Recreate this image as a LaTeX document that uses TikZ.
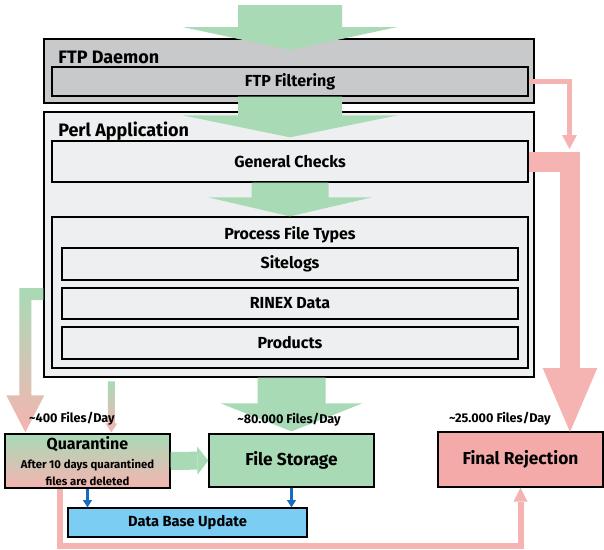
\documentclass[tikz,border=0pt]{standalone}
\usepackage{fontspec}
\setmainfont{Fira Sans}
\usetikzlibrary{arrows.meta,calc}
% block arrow pointing down: (start)(tip)(half shaft:half head:head length)
\def\blockarrow[#1](#2)(#3)(#4:#5:#6){\fill[#1] ($(#2)+(-#4,0)$) -- ($(#3)+(-#4,-#6)$) -- ($(#3)+(-#5,-#6)$) -- (#3) -- ($(#3)+(#5,-#6)$) -- ($(#3)+(#4,-#6)$) -- ($(#2)+(#4,0)$) -- cycle;}

\definecolor{flowgreen}{RGB}{168,218,182}
\definecolor{rejectpink}{RGB}{245,180,177}
\definecolor{rejectfill}{RGB}{243,170,168}
\definecolor{fadecream}{RGB}{236,216,184}
\definecolor{daemongray}{RGB}{200,201,202}
\definecolor{perlgray}{RGB}{238,239,240}
\definecolor{dbblue}{RGB}{124,205,243}
\definecolor{dbarrow}{RGB}{22,108,190}

\tikzset{
  box/.style={draw=black, line width=1pt, inner sep=0pt, font=\bfseries\fontsize{12}{14}\selectfont},
  target/.style={box, minimum width=123.75pt, font=\bfseries\fontsize{13}{16}\selectfont},
  grouptitle/.style={anchor=west, inner sep=0pt, font=\bfseries\fontsize{13.5}{16}\selectfont},
  rate/.style={inner sep=0pt, font=\bfseries\fontsize{9.5}{11}\selectfont},
  greenflow/.style={draw=flowgreen},
  rejectflow/.style={draw=rejectpink},
  fadeflow/.style={top color=flowgreen, middle color=fadecream, bottom color=rejectpink, draw=none},
  dbflow/.style={draw=dbarrow, line width=1.9pt, -{Triangle[width=7pt,length=5.5pt,line width=0pt]}}
}

\begin{document}
\begin{tikzpicture}[x=0.75pt,y=-0.75pt]
			%%%%% START %%%%%
			\useasboundingbox (0,0) rectangle (604,550);
			
			% ftp daemon
			\node[box, fill=daemongray, minimum width=367.5pt, minimum height=48pt] (ftpd) at (289,71) {};
			\node[grouptitle] (ftpdtitle) at (58,57) {FTP Daemon};
			\node[box, fill=daemongray, minimum width=357pt, minimum height=21.75pt] (filt) at (290,81.5) {FTP Filtering};
			
			% perl application
			\node[box, fill=perlgray, minimum width=367.5pt, minimum height=198.75pt] (perl) at (289,244.5) {};
			\node[grouptitle] (perltitle) at (58,131) {Perl Application};
			\node[box, fill=perlgray, minimum width=357pt, minimum height=30.75pt] (checks) at (290,161.5) {General Checks};
			\node[box, fill=perlgray, minimum width=357pt, minimum height=113.25pt] (types) at (290,292.5) {};
			\node[box, draw=none] (typestitle) at (290,235) {Process File Types};
			\node[box, fill=perlgray, minimum width=342pt, minimum height=24pt] (sitelogs) at (290,264) {Sitelogs};
			\node[box, fill=perlgray, minimum width=342pt, minimum height=23.25pt] (rinex) at (290,303.5) {RINEX Data};
			\node[box, fill=perlgray, minimum width=342pt, minimum height=24pt] (products) at (290,343) {Products};
			
			% where the files end up
			\node[box, fadeflow, draw=black, minimum width=123.75pt, minimum height=40.5pt, align=center] (quar) at (87.5,461)
				{\fontsize{12}{13}\selectfont Quarantine\\[0pt]
				 \fontsize{8.5}{10}\selectfont After 10 days quarantined\\[-1pt]
				 \fontsize{8.5}{10}\selectfont files are deleted};
			\node[target, fill=flowgreen, minimum height=39.75pt] (store) at (291.5,460.5) {File Storage};
			\node[target, fill=rejectfill, minimum height=41.25pt] (reject) at (520.5,459.5) {Final Rejection};
			\node[box, fill=dbblue, minimum width=179.25pt, minimum height=21.75pt, font=\bfseries\fontsize{11}{13}\selectfont] (dbase) at (187.5,522.5) {Data Base Update};
			
			\coordinate (feed) at (290,5);
			\coordinate (feedtip) at (290,50);
			\coordinate (filtend) at (569.5,149);
			\coordinate (rejtip) at (570,432);
			\coordinate (sweep) at (300,546);
			\coordinate (qout) at ($(quar.south west)+(56,0)$);
			\coordinate (leftout) at ($(perl.west)+(0,49.5)$);
			\coordinate (lefttip) at ($(quar.north west)+(21,-1)$);
			\coordinate (smalltip) at ($(quar.north west)+(107,-1)$);
			
			% accepted flow
			\blockarrow[flowgreen](feed)(feedtip)(52:107.5:23);
			\blockarrow[flowgreen](filt.south)($(checks.north)+(0,-3)$)(52:107.5:22);
			\blockarrow[flowgreen](checks.south)(types.north)(38.5:82:19);
			\blockarrow[flowgreen](perl.south -| store.north)($(store.north)+(0,-2)$)(34:71:28);
			\draw[greenflow, line width=13.5pt, -{Triangle[width=21pt,length=8.25pt,line width=0pt]}] (quar.east) -- (store.west);
			
			% rejected flow
			\draw[rejectflow, line width=3.75pt, -{Triangle[width=11.25pt,length=10.5pt,line width=0pt]}] (filt.east) -| (filtend);
			\draw[rejectflow, line width=15pt, -{Triangle[width=41pt,length=48pt,line width=0pt]}] (checks.east) -| (rejtip);
			\draw[rejectflow, line width=4.5pt, -{Triangle[width=10.5pt,length=10.5pt,line width=0pt]}] (qout) |- (sweep) -| (reject.south);
			
			% quarantined flow
			\shade[fadeflow] ($(leftout)+(0,-6)$) -| ($(lefttip)+(-6,-37)$) -- ($(lefttip)+(-19,-37)$) -- (lefttip)
				-- ($(lefttip)+(19,-37)$) -- ($(lefttip)+(6,-37)$) |- ($(leftout)+(0,6)$) -- cycle;
			\shade[fadeflow] ($(smalltip)+(-3.5,-51)$) -- ($(smalltip)+(-3.5,-9)$) -- ($(smalltip)+(-6,-9)$) -- (smalltip)
				-- ($(smalltip)+(6,-9)$) -- ($(smalltip)+(3.5,-9)$) -- ($(smalltip)+(3.5,-51)$) -- cycle;
			
			% data base
			\draw[dbflow] (quar.south) -- (quar.south |- dbase.north);
			\draw[dbflow] (store.south) -- (store.south |- dbase.north);
			
			\node[rate] (quarrate) at (72,419) {\textasciitilde 400 Files/Day};
			\node[rate] (storerate) at (289,420) {\textasciitilde 80.000 Files/Day};
			\node[rate] (rejectrate) at (500,419) {\textasciitilde 25.000 Files/Day};
			
			%%%%% END %%%%%
		\end{tikzpicture}
\end{document}
